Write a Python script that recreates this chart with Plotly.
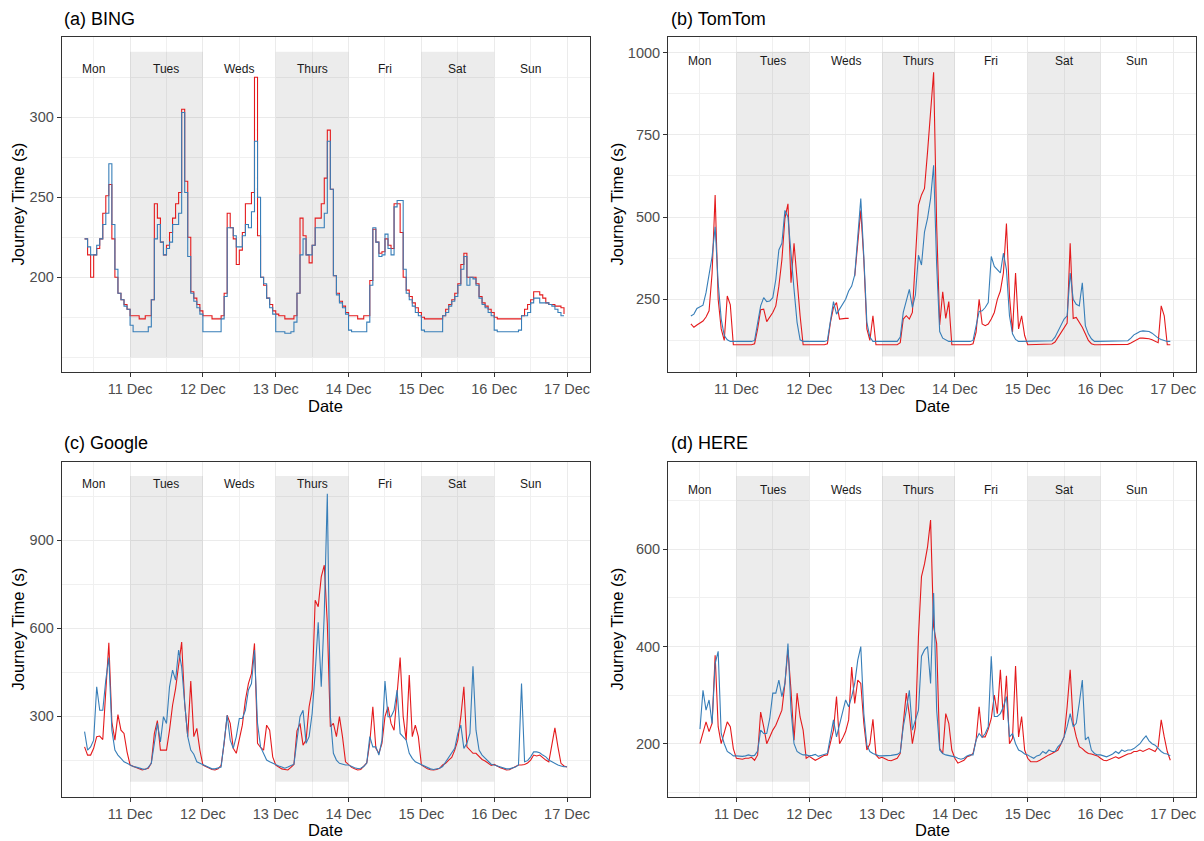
import pandas as pd
import plotly.graph_objects as go

# ---------------- data (hourly readings, 10 Dec 09:00 -> 17 Dec 00:00) ----------------
times = pd.date_range("2018-12-10 09:00", periods=160, freq="h")
day_starts = pd.date_range("2018-12-10", periods=7, freq="D")
day_names = ["Mon", "Tues", "Weds", "Thurs", "Fri", "Sat", "Sun"]
shaded_days = ["2018-12-11", "2018-12-13", "2018-12-15"]
tick_dates = pd.date_range("2018-12-11", periods=7, freq="D")
tick_labels = ["11 Dec", "12 Dec", "13 Dec", "14 Dec", "15 Dec", "16 Dec", "17 Dec"]

bing_red = (
    [224, 214, 200, 214, 218, 224, 240, 251, 258, 224, 200, 190, 186, 183, 180]
    + [176, 176, 176, 174, 174, 176, 176, 186, 246, 237, 222, 214, 220, 228, 237, 246, 253, 305, 260, 225, 191, 187, 183, 179]
    + [176, 176, 176, 174, 174, 174, 176, 190, 240, 231, 224, 208, 217, 228, 246, 246, 253, 325, 226, 200, 195, 187, 183, 179]
    + [177, 176, 176, 174, 174, 174, 176, 190, 237, 226, 214, 209, 220, 237, 237, 246, 262, 292, 255, 201, 190, 185, 182, 178]
    + [176, 176, 176, 174, 174, 176, 176, 198, 230, 222, 215, 216, 224, 220, 218, 246, 246, 228, 200, 192, 188, 184, 181, 178]
    + [175, 174, 174, 174, 174, 174, 174, 176, 180, 183, 186, 190, 196, 208, 215, 200, 200, 200, 196, 188, 184, 182, 180, 178]
    + [175, 174, 174, 174, 174, 174, 174, 174, 174, 176, 180, 183, 186, 191, 191, 189, 187, 184, 183, 183, 182, 182, 181, 177]
    + [None]
)
bing_blue = (
    [224, 219, 214, 214, 220, 224, 233, 240, 271, 233, 205, 190, 186, 182, 180]
    + [170, 166, 166, 166, 166, 166, 169, 186, 224, 233, 222, 214, 218, 222, 233, 233, 240, 303, 253, 213, 190, 185, 181, 177]
    + [166, 166, 166, 166, 166, 166, 174, 188, 231, 231, 226, 219, 219, 226, 233, 231, 241, 285, 250, 200, 196, 187, 181, 177]
    + [166, 166, 166, 165, 165, 166, 172, 190, 214, 224, 214, 214, 220, 231, 231, 231, 240, 285, 255, 201, 189, 184, 181, 177]
    + [167, 166, 166, 166, 166, 166, 172, 195, 231, 222, 213, 214, 227, 218, 214, 244, 248, 248, 205, 190, 186, 182, 178, 176]
    + [167, 166, 166, 166, 166, 166, 166, 176, 178, 182, 185, 188, 195, 205, 213, 195, 200, 199, 195, 187, 183, 181, 178, 176]
    + [167, 166, 166, 166, 166, 166, 166, 166, 167, 176, 176, 178, 184, 187, 187, 184, 184, 184, 183, 182, 180, 178, 176, 176]
    + [None]
)

tomtom_red = (
    [175, 165, 172, 178, 184, 196, 215, 330, 567, 250, 160, 125, 260, 233, 112]
    + [112, 112, 112, 112, 112, 112, 115, 160, 218, 220, 182, 197, 210, 230, 290, 370, 496, 540, 300, 420, 300, 200, 112, 112]
    + [112, 112, 112, 112, 112, 112, 115, 180, 225, 240, 190, 192, 192, 192, None, 320, 430, 520, 370, 160, 125, 200, 112, 112]
    + [112, 112, 112, 112, 112, 112, 118, 190, 200, 190, 210, 384, 536, 567, 587, 698, 809, 940, 475, 172, 273, 192, 243, 112]
    + [112, 112, 112, 112, 112, 112, 115, 150, 250, 175, 170, 175, 190, 210, 250, 275, 330, 480, 260, 150, 330, 160, 200, 140]
    + [112, 112, 112, 112, 112, 112, 112, 112, 114, 120, 135, 150, 165, 178, 420, 192, 195, 180, 165, 145, 125, 115, 112, 112]
    + [112, 112, 112, 112, 112, 112, 112, 112, 112, 113, 117, 122, 127, 132, 132, 132, 130, 127, 122, 118, 230, 200, 112, 112]
    + [None]
)
tomtom_blue = (
    [199, 205, 222, 228, 232, 270, 330, 380, 470, 300, 190, 140, 127, 122, 122]
    + [122, 122, 122, 122, 122, 122, 125, 175, 230, 255, 243, 245, 255, 310, 400, 420, 520, 500, 380, 280, 180, 127, 122, 122]
    + [122, 122, 122, 122, 122, 122, 125, 190, 243, 205, 220, 232, 250, 275, 290, 324, 430, 556, 380, 180, 135, 122, 122, 122]
    + [122, 122, 122, 122, 122, 122, 135, 210, 245, 280, 225, 263, 384, 354, 455, 496, 556, 657, 354, 152, 132, 127, 122, 122]
    + [122, 122, 122, 122, 122, 122, 125, 172, 213, 215, 225, 240, 380, 350, 340, 330, 390, 340, 200, 145, 128, 122, 122, 122]
    + [122, 122, 122, 122, 122, 122, 122, 122, 124, 135, 155, 175, 190, 200, 330, 250, 235, 230, 300, 170, 145, 130, 122, 122]
    + [122, 122, 122, 122, 122, 122, 122, 122, 122, 124, 132, 142, 147, 152, 154, 154, 152, 147, 140, 132, 128, 124, 122, 122]
    + [None]
)

google_red = (
    [195, 167, 167, 190, 230, 232, 220, 389, 550, 280, 218, 305, 252, 241, 178]
    + [133, 128, 124, 120, 116, 118, 122, 140, 240, 285, 184, 184, 184, 252, 337, 394, 474, 553, 343, 230, 420, 230, 258, 184]
    + [133, 127, 123, 118, 116, 120, 132, 207, 303, 275, 190, 173, 218, 269, 355, 411, 445, 548, 207, 193, 184, 269, 252, 161]
    + [133, 125, 120, 118, 116, 125, 135, 250, 275, 201, 218, 332, 389, 695, 673, 775, 815, 616, 264, 275, 230, 298, 230, 144]
    + [133, 125, 120, 116, 118, 128, 140, 210, 332, 190, 173, 207, 298, 332, 275, 252, 377, 500, 298, 218, 440, 230, 269, 230]
    + [133, 125, 120, 117, 116, 118, 122, 133, 139, 150, 159, 184, 218, 298, 400, 195, 184, 173, 173, 161, 152, 147, 139, 132]
    + [135, 128, 124, 120, 116, 117, 122, 127, 133, 133, 135, 140, 150, 167, 164, 167, 158, 150, 144, 207, 260, 195, 139, 130]
    + [126]
)
google_blue = (
    [247, 184, 195, 218, 400, 320, 320, 423, 500, 252, 184, 167, 156, 144, 139]
    + [133, 128, 126, 122, 120, 118, 125, 139, 207, 275, 212, 298, 275, 400, 457, 423, 525, 468, 343, 230, 184, 170, 144, 139]
    + [133, 128, 124, 120, 120, 122, 126, 212, 303, 218, 190, 230, 292, 292, 320, 389, 411, 525, 275, 195, 173, 150, 144, 139]
    + [133, 130, 126, 122, 126, 130, 136, 218, 298, 320, 207, 230, 309, 450, 620, 400, 650, 1059, 300, 173, 150, 139, 135, 133]
    + [133, 128, 124, 121, 122, 128, 140, 230, 195, 195, 167, 218, 420, 298, 298, 320, 389, 241, 230, 218, 173, 156, 144, 139]
    + [133, 128, 124, 120, 118, 119, 122, 128, 144, 161, 173, 190, 241, 269, 190, 207, 241, 470, 252, 184, 167, 156, 144, 136]
    + [133, 130, 126, 122, 120, 120, 122, 126, 133, 411, 144, 148, 161, 178, 178, 175, 167, 161, 150, 144, 139, 133, 130, 127]
    + [127]
)

here_red = (
    [None, None, None, 200, 225, 245, 225, 242, 382, 235, 200, 221, 245, 235, 190]
    + [170, 169, 168, 170, 170, 172, 166, 177, 265, 235, 200, 214, 228, 238, 255, 269, 324, 393, 310, 207, 304, 255, 228, 170]
    + [174, 170, 166, 169, 172, 176, 177, 200, 228, 297, 200, 211, 225, 249, 358, 283, 331, 324, 242, 187, 200, 250, 177, 170]
    + [172, 169, 166, 165, 167, 170, 180, 250, 304, 260, 200, 235, 420, 544, 570, 605, 660, 441, 406, 190, 180, 262, 242, 187]
    + [170, 160, 163, 166, 173, 175, 180, 208, 276, 214, 214, 230, 252, 300, 262, 352, 249, 340, 200, 211, 360, 214, 256, 187]
    + [170, 163, 163, 163, 166, 170, 173, 177, 180, 184, 187, 200, 214, 276, 352, 242, 214, 194, 190, 184, 180, 179, 177, 175]
    + [170, 166, 165, 168, 170, 173, 170, 173, 177, 179, 180, 184, 184, 187, 184, 187, 190, 187, 184, 194, 249, 214, 184, 166]
    + [None]
)
here_blue = (
    [None, None, None, 230, 310, 269, 290, 242, 365, 390, 221, 200, 184, 180, 175]
    + [175, 174, 174, 175, 177, 175, 176, 185, 228, 221, 221, 252, 304, 304, 331, 297, 324, 406, 269, 200, 184, 180, 177, 177]
    + [175, 176, 178, 174, 176, 178, 180, 214, 249, 214, 238, 262, 290, 276, 297, 324, 372, 400, 262, 197, 184, 180, 177, 175]
    + [175, 175, 175, 176, 177, 178, 182, 235, 269, 310, 228, 249, 269, 380, 393, 400, 324, 510, 270, 187, 180, 177, 176, 175]
    + [173, 170, 168, 170, 175, 177, 177, 208, 221, 213, 221, 235, 380, 256, 256, 262, 276, 297, 214, 221, 200, 187, 184, 179]
    + [177, 173, 170, 175, 177, 184, 180, 187, 184, 184, 194, 200, 214, 235, 262, 235, 242, 283, 331, 208, 214, 187, 180, 177]
    + [177, 175, 173, 176, 179, 184, 180, 187, 184, 187, 187, 190, 195, 200, 209, 216, 206, 200, 197, 190, 184, 180, 179, 175]
    + [None]
)


def fit(vals, n=len(times)):
    vals = list(vals)[:n]
    return vals + [None] * (n - len(vals))


panel_titles = ["(a) BING", "(b) TomTom", "(c) Google", "(d) HERE"]
panel_red = [bing_red, tomtom_red, google_red, here_red]
panel_blue = [bing_blue, tomtom_blue, google_blue, here_blue]
panel_shape = ["hv", "linear", "linear", "linear"]
panel_yrange = [[141, 350], [30, 1046], [25, 1166], [91, 779]]
panel_yticks = [[200, 250, 300], [250, 500, 750, 1000], [300, 600, 900], [200, 400, 600]]
panel_minor = [25, 125, 150, 100]
panel_rect = [[150, 341], [76, 1002], [76, 1119], [122, 751]]
panel_label_y = [330, 975, 1092, 722]

# ---------------- styling ----------------
W, H = 1204, 841
RED = "#E41A1C"
BLUE = "#377EB8"
FONT = "Liberation Sans, Arial, sans-serif"
x_dom = [[61.7 / W, 590.0 / W], [668.0 / W, 1196.3 / W]] * 2
y_dom = [[1 - 371.7 / H, 1 - 37.3 / H]] * 2 + [[1 - 796.7 / H, 1 - 462.3 / H]] * 2
x_range = ["2018-12-10 01:28", "2018-12-17 07:34"]

fig = go.Figure()
shapes, annotations = [], []

for i in range(4):
    sfx = "" if i == 0 else str(i + 1)
    xa, ya = "x" + sfx, "y" + sfx
    for vals, col in ((panel_red[i], RED), (panel_blue[i], BLUE)):
        fig.add_trace(go.Scatter(
            x=times, y=fit(vals), mode="lines",
            line=dict(color=col, width=1.1, shape=panel_shape[i]),
            connectgaps=False, showlegend=False, hoverinfo="x+y",
            xaxis=xa, yaxis=ya))

    fig.update_layout(**{
        "xaxis" + sfx: dict(
            domain=x_dom[i], anchor=ya, type="date", range=x_range,
            tickvals=tick_dates, ticktext=tick_labels,
            tickfont=dict(family=FONT, size=14.5, color="#4D4D4D"),
            ticks="outside", ticklen=4, tickcolor="#333333", tickwidth=1,
            showline=True, mirror=True, linecolor="#333333", linewidth=1,
            showgrid=True, gridcolor="#EBEBEB", gridwidth=1.1,
            minor=dict(dtick=43200000, tick0="2018-12-10", showgrid=True,
                       gridcolor="#F0F0F0", gridwidth=0.8),
            zeroline=False, fixedrange=True),
        "yaxis" + sfx: dict(
            domain=y_dom[i], anchor=xa, range=panel_yrange[i],
            tickvals=panel_yticks[i],
            tickfont=dict(family=FONT, size=14.5, color="#4D4D4D"),
            ticks="outside", ticklen=4, tickcolor="#333333", tickwidth=1,
            showline=True, mirror=True, linecolor="#333333", linewidth=1,
            showgrid=True, gridcolor="#EBEBEB", gridwidth=1.1,
            minor=dict(dtick=panel_minor[i], tick0=0, showgrid=True,
                       gridcolor="#F0F0F0", gridwidth=0.8),
            zeroline=False, fixedrange=True),
    })

    for d in shaded_days:
        d0 = pd.Timestamp(d)
        shapes.append(dict(type="rect", xref=xa, yref=ya,
                           x0=d0, x1=d0 + pd.Timedelta(days=1),
                           y0=panel_rect[i][0], y1=panel_rect[i][1],
                           fillcolor="rgba(0,0,0,0.075)", line=dict(width=0),
                           layer="between"))

    for d0, name in zip(day_starts, day_names):
        annotations.append(dict(x=d0 + pd.Timedelta(hours=12), y=panel_label_y[i],
                                xref=xa, yref=ya, text=name, showarrow=False,
                                font=dict(family=FONT, size=12, color="#1A1A1A")))

    # panel title
    top_px = 19 if i < 2 else 443
    annotations.append(dict(x=x_dom[i][0] + 0.5 / W, y=1 - top_px / H, xref="paper", yref="paper",
                            text=panel_titles[i], showarrow=False, xanchor="left", yanchor="middle",
                            font=dict(family=FONT, size=18, color="black")))
    # axis titles
    ytitle_x = (17.0 if i % 2 == 0 else 616.0) / W
    annotations.append(dict(x=ytitle_x, y=sum(y_dom[i]) / 2, xref="paper", yref="paper",
                            text="Journey Time (s)", textangle=-90, showarrow=False,
                            xanchor="center", yanchor="middle",
                            font=dict(family=FONT, size=16.5, color="black")))
    date_px = 406 if i < 2 else 830
    annotations.append(dict(x=sum(x_dom[i]) / 2, y=1 - date_px / H, xref="paper", yref="paper",
                            text="Date", showarrow=False, xanchor="center", yanchor="middle",
                            font=dict(family=FONT, size=16.5, color="black")))

fig.update_layout(
    width=W, height=H, autosize=False,
    margin=dict(l=0, r=0, t=0, b=0),
    paper_bgcolor="white", plot_bgcolor="white",
    shapes=shapes, annotations=annotations,
    font=dict(family=FONT),
)

fig.write_html(
    "out.html",
    config={"displayModeBar": False},
    post_script="document.body.style.margin='0';document.body.style.overflow='hidden';",
)
